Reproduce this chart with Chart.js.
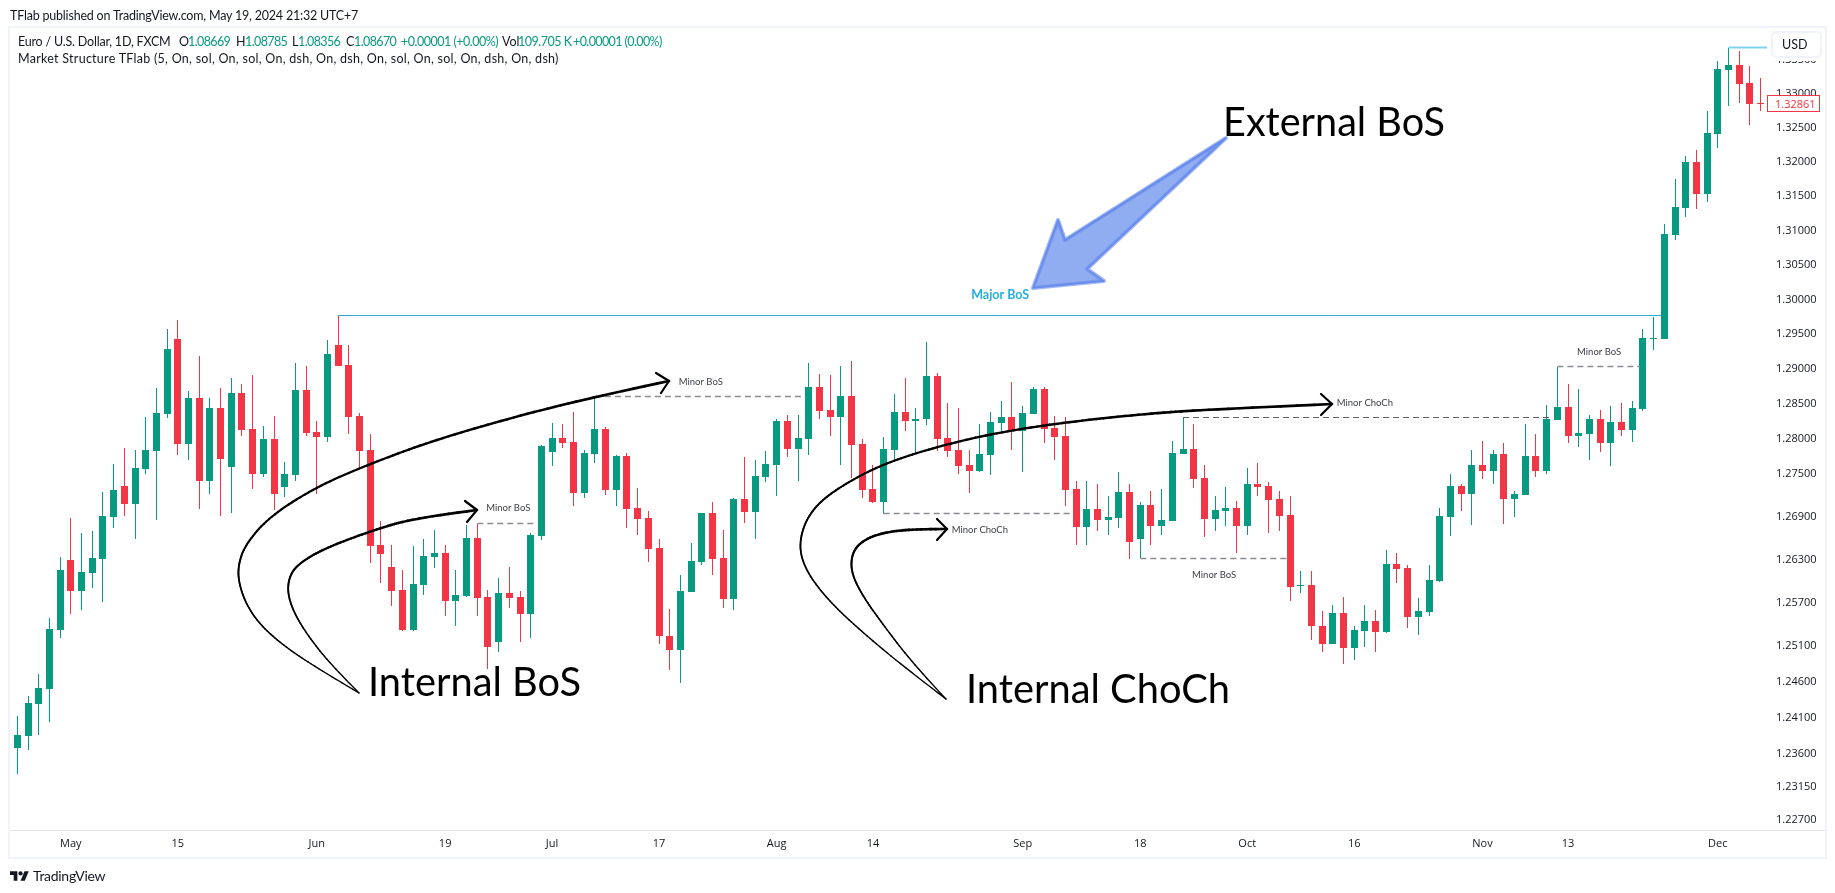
<!DOCTYPE html>
<html>
<head>
<meta charset="utf-8">
<title>EURUSD Market Structure</title>
<script src="https://cdn.jsdelivr.net/npm/chart.js@4"></script>
<style>
    html, body { margin: 0; padding: 0; background: #fff; }
    body { width: 1835px; height: 893px; position: relative; overflow: hidden; font-family: "Lato", sans-serif; color: #131722; }
    canvas { position: absolute; left: 0; top: 0; }
    .t { position: absolute; white-space: nowrap; font-size: 12.5px; line-height: 16px; }
    .g { color: #089981; }
    #frame { position: absolute; left: 8px; top: 26px; width: 1815px; height: 829px; border: 2px solid #F0F3FA; }
    #axisLine { position: absolute; left: 10px; top: 830px; width: 1815px; height: 1px; background: #E0E3EB; }
    #usd { position: absolute; left: 1771px; top: 31px; width: 47px; height: 23px; line-height: 23px; border: 2px solid #F0F3FA; border-radius: 5px; background: #fff; box-shadow: 0 2px 0 1px #fff; font-size: 12.5px; text-indent: 9px; }
    #lastPrice { position: absolute; left: 1767px; top: 95px; width: 51px; height: 15px; line-height: 15px; border: 1px solid #F23645; background: #fff; color: #F23645; font-family: "Open Sans", sans-serif; font-size: 11px; text-indent: 7px; }
    #logo { position: absolute; left: 10px; top: 869px; width: 19px; height: 13px; }
</style>
</head>
<body>
<canvas id="marketChart" width="1835" height="893"></canvas>
<div id="frame"></div>
<div id="axisLine"></div>

<div class="t" style="left:10px;top:8px;letter-spacing:-0.2px">TFlab published on TradingView.com, May 19, 2024 21:32 UTC+7</div>
<div class="t" style="left:18px;top:34px;letter-spacing:-0.2px">Euro / U.S. Dollar, 1D, FXCM</div>
<div class="t" style="left:179px;top:34px">O</div><div class="t g" style="left:188px;top:34px;letter-spacing:-0.6px">1.08669</div>
<div class="t" style="left:236px;top:34px">H</div><div class="t g" style="left:245px;top:34px;letter-spacing:-0.6px">1.08785</div>
<div class="t" style="left:292px;top:34px">L</div><div class="t g" style="left:298px;top:34px;letter-spacing:-0.6px">1.08356</div>
<div class="t" style="left:346px;top:34px">C</div><div class="t g" style="left:354px;top:34px;letter-spacing:-0.6px">1.08670</div>
<div class="t g" style="left:401px;top:34px;letter-spacing:-0.5px">+0.00001 (+0.00%)</div>
<div class="t" style="left:502px;top:34px">Vol</div><div class="t g" style="left:518px;top:34px;letter-spacing:-0.5px">109.705 K</div>
<div class="t g" style="left:573px;top:34px;letter-spacing:-0.6px">+0.00001 (0.00%)</div>
<div class="t" style="left:18px;top:51px;letter-spacing:0.27px">Market Structure TFlab (5, On, sol, On, sol, On, dsh, On, dsh, On, sol, On, sol, On, dsh, On, dsh)</div>

<div id="usd">USD</div>
<div id="lastPrice">1.32861</div>

<svg id="logo" viewBox="0 0 36 24"><path fill="#131722" d="M14 22H7V11H0V4h14v18zM28 22h-8l7.5-18h8L28 22z"/><circle fill="#131722" cx="20" cy="8" r="4"/></svg>
<div class="t" style="left:33px;top:868px;font-size:14px;letter-spacing:-0.3px">TradingView</div>

<script>
// daily candles
const opens = [
    1.23690,1.23855,1.24295,1.24502,1.25320,1.26297,1.25863,1.26115,1.26311,1.26901,
    1.27339,1.27085,1.27579,1.27834,1.28360,1.29433,1.27934,1.28589,1.27410,1.28446,
    1.27607,1.28660,1.28147,1.27508,1.28005,1.27325,1.27494,1.28703,1.28104,1.28033,
    1.29347,1.29060,1.28332,1.27848,1.26508,1.26199,1.25877,1.25320,1.25947,1.26339,
    1.26395,1.25724,1.25794,1.26606,1.25780,1.25153,1.25836,1.25780,1.25543,1.26634,
    1.27820,1.28019,1.27962,1.27240,1.27792,1.28147,1.27282,1.27763,1.27028,1.26887,
    1.26466,1.25236,1.25033,1.25850,1.26269,1.26958,1.26325,1.25743,1.27155,1.26972,
    1.27466,1.27636,1.28261,1.27863,1.28005,1.28746,1.28417,1.28317,1.28617,1.27934,
    1.27296,1.27113,1.27848,1.28389,1.28261,1.28289,1.28903,1.28019,1.27848,1.27636,
    1.27551,1.27778,1.28232,1.28317,1.28118,1.28360,1.28717,1.28161,1.28047,1.27296,
    1.26761,1.27014,1.26859,1.26887,1.27254,1.26592,1.27070,1.26775,1.26845,1.27792,
    1.27863,1.27452,1.26873,1.26986,1.27028,1.26775,1.27367,1.27339,1.27155,1.26930,
    1.25933,1.25947,1.25376,1.25125,1.25557,1.25070,1.25306,1.25445,1.25292,1.26241,
    1.26185,1.25501,1.25571,1.26003,1.26901,1.27339,1.27226,1.27636,1.27551,1.27792,
    1.27155,1.27212,1.27763,1.27551,1.28275,1.28460,1.28047,1.28076,1.28289,1.27948,
    1.28246,1.28133,1.28432,1.29433,1.29433,1.30936,1.31329,1.32001,1.31533,1.32411,
    1.33354,1.33428,1.33162,1.32868
];
const closes = [
    1.23868,1.24309,1.24516,1.25334,1.26157,1.25863,1.26129,1.26325,1.26915,1.27282,
    1.27085,1.27593,1.27848,1.28375,1.29290,1.27934,1.28589,1.27410,1.28446,1.27721,
    1.28660,1.28133,1.27508,1.28005,1.27226,1.27508,1.28703,1.28090,1.28033,1.29218,
    1.29046,1.28317,1.27834,1.26494,1.26381,1.25863,1.25320,1.25961,1.26353,1.26395,
    1.25724,1.25808,1.26606,1.25766,1.25084,1.25836,1.25766,1.25543,1.26648,1.27905,
    1.28019,1.27948,1.27240,1.27806,1.28147,1.27282,1.27763,1.27014,1.26873,1.26452,
    1.25227,1.25033,1.25863,1.26283,1.26958,1.26311,1.25743,1.27155,1.26972,1.27480,
    1.27650,1.28261,1.27863,1.28019,1.28746,1.28403,1.28317,1.28617,1.27919,1.27282,
    1.27113,1.27863,1.28389,1.28261,1.28289,1.28903,1.28005,1.27834,1.27622,1.27551,
    1.27792,1.28246,1.28317,1.28118,1.28375,1.28717,1.28147,1.28033,1.27282,1.26761,
    1.27014,1.26859,1.26901,1.27254,1.26550,1.27070,1.26775,1.26859,1.27806,1.27863,
    1.27438,1.26873,1.27000,1.27028,1.26775,1.27367,1.27325,1.27141,1.26915,1.25919,
    1.25947,1.25366,1.25125,1.25557,1.25070,1.25320,1.25445,1.25292,1.26241,1.26171,
    1.25501,1.25584,1.26017,1.26915,1.27339,1.27226,1.27636,1.27551,1.27792,1.27155,
    1.27226,1.27763,1.27551,1.28289,1.28460,1.28047,1.28090,1.28289,1.27948,1.28246,
    1.28133,1.28446,1.29448,1.29448,1.30950,1.31343,1.32001,1.31533,1.32426,1.33369,
    1.33428,1.33148,1.32853,1.32861
];
const highs = [
    1.24130,1.24406,1.24710,1.25487,1.26339,1.26887,1.26676,1.26704,1.27254,1.27650,
    1.27877,1.27848,1.28317,1.28731,1.29577,1.29707,1.28688,1.29189,1.28589,1.28731,
    1.28874,1.28789,1.28917,1.28190,1.28332,1.27678,1.29089,1.29046,1.28261,1.29419,
    1.29774,1.29347,1.28375,1.28076,1.26845,1.26508,1.26157,1.26494,1.26592,1.26718,
    1.26508,1.26157,1.26789,1.26803,1.25877,1.26045,1.26199,1.25863,1.26671,1.27919,
    1.28232,1.28218,1.28389,1.27848,1.28603,1.28175,1.27778,1.27801,1.27311,1.26986,
    1.26592,1.25603,1.26087,1.26536,1.26958,1.27113,1.26718,1.27169,1.27749,1.27707,
    1.27834,1.28289,1.28346,1.28346,1.29089,1.28932,1.28917,1.29046,1.29118,1.28005,
    1.27636,1.28033,1.28646,1.28874,1.28446,1.29390,1.28946,1.28517,1.28446,1.27848,
    1.28218,1.28389,1.28546,1.28817,1.28475,1.28741,1.28741,1.28332,1.28317,1.27410,
    1.27410,1.27367,1.27197,1.27537,1.27367,1.27113,1.27268,1.27296,1.27976,1.28313,
    1.28218,1.27636,1.27197,1.27325,1.27127,1.27593,1.27664,1.27395,1.27268,1.27197,
    1.26143,1.26143,1.25584,1.25668,1.25780,1.25376,1.25668,1.25598,1.26437,1.26395,
    1.26227,1.25766,1.26227,1.27028,1.27508,1.27367,1.27848,1.27976,1.27848,1.27948,
    1.27268,1.28218,1.28076,1.28489,1.29032,1.28789,1.28717,1.28346,1.28417,1.28475,
    1.28517,1.28546,1.29577,1.29750,1.31096,1.31752,1.32088,1.32176,1.32750,1.33488,
    1.33680,1.33636,1.33414,1.33236
];
const lows = [
    1.23334,1.23655,1.23868,1.24047,1.25209,1.25543,1.25598,1.25905,1.25710,1.26747,
    1.26915,1.26592,1.27508,1.26859,1.28303,1.27778,1.27707,1.27014,1.27226,1.26915,
    1.26958,1.28047,1.27296,1.27466,1.27000,1.27183,1.27410,1.28047,1.27226,1.27962,
    1.29046,1.28076,1.27593,1.26255,1.25975,1.25654,1.25306,1.25306,1.25808,1.26185,
    1.25515,1.25376,1.25770,1.25515,1.24779,1.25015,1.25626,1.25153,1.25209,1.26578,
    1.27622,1.27877,1.27056,1.27169,1.27664,1.27212,1.27056,1.26747,1.26648,1.26269,
    1.25116,1.24756,1.24576,1.25850,1.26227,1.26087,1.25626,1.25589,1.26817,1.26592,
    1.27395,1.27197,1.27749,1.27410,1.27778,1.28289,1.28047,1.27636,1.27447,1.27169,
    1.27099,1.26944,1.27707,1.28118,1.27806,1.28204,1.27834,1.27749,1.27508,1.27240,
    1.27537,1.27494,1.28118,1.27848,1.27537,1.28360,1.27948,1.27707,1.27056,1.26508,
    1.26508,1.26704,1.26648,1.26747,1.26311,1.26316,1.26508,1.26648,1.26836,1.27783,
    1.27311,1.26620,1.26704,1.26775,1.26395,1.26648,1.27197,1.26676,1.26704,1.25715,
    1.25836,1.25172,1.25015,1.25125,1.24848,1.24904,1.25084,1.25015,1.25278,1.25975,
    1.25348,1.25251,1.25515,1.25989,1.26634,1.26986,1.26789,1.27438,1.27367,1.26803,
    1.26901,1.27212,1.27466,1.27508,1.28275,1.27948,1.27891,1.27707,1.27820,1.27622,
    1.28047,1.27962,1.28403,1.29275,1.29433,1.30863,1.31198,1.31314,1.31416,1.32206,
    1.32823,1.32867,1.32544,1.32750
];

// time axis: candle number and its label
const timeTickIndex = [5, 15, 28, 40, 50, 60, 71, 80, 94, 105, 115, 125, 137, 145, 159];
const timeTickLabels = ["May", "15", "Jun", "19", "Jul", "17", "Aug", "14", "Sep", "18", "Oct", "16", "Nov", "13", "Dec"];

const priceTicks = [1.335, 1.33, 1.325, 1.32, 1.315, 1.31, 1.305, 1.3, 1.295, 1.29, 1.285, 1.28, 1.275,
    1.269, 1.263, 1.257, 1.251, 1.246, 1.241, 1.236, 1.2315, 1.227];

// market structure levels from the indicator
const majorFrom = [30, 160];
const majorTo = [153.7, 163.6];
const majorPrice = [1.29774, 1.33680];
const minorFrom = [43, 54, 81, 105, 109, 144];
const minorTo = [48.6, 73.7, 98.7, 118.7, 143.3, 151.7];
const minorPrice = [1.26803, 1.28603, 1.26944, 1.26316, 1.28313, 1.29032];

const labelTexts = ["Major BoS", "Minor BoS", "Minor BoS", "Minor ChoCh", "Minor BoS", "Minor ChoCh", "Minor BoS"];
const labelIndex = [91.9, 45.9, 63.9, 90, 111.9, 126, 147.9];
const labelPrice = [1.3007, 1.2702, 1.2882, 1.2672, 1.2609, 1.2852, 1.2925];

const GREEN = "#089981";
const RED = "#F23645";
const TICK_FONT = { family: "Open Sans", size: 11 };

const candleColors = opens.map((o, i) => (closes[i] >= o ? GREEN : RED));

function levelDataset(from, to, price, color, width, dash) {
    return {
        type: "line",
        data: [{ x: from, y: price }, { x: to, y: price }],
        borderColor: color,
        borderWidth: width,
        borderDash: dash,
        pointRadius: 0,
        fill: false,
        order: 0
    };
}

const levelDatasets = [
    levelDataset(majorFrom[0], majorTo[0], majorPrice[0], "#2FA9D8", 1, []),
    levelDataset(majorFrom[1], majorTo[1], majorPrice[1], "#7FD3F0", 2, [])
];
minorFrom.forEach((from, i) => {
    const dark = i === 4;
    levelDatasets.push(levelDataset(from, minorTo[i], minorPrice[i], dark ? "#5d5f66" : "#8a8c92", dark ? 1 : 1.5, [6, 4]));
});

// hand drawn callouts sit on top of the chart, they are drawings and not data
const calloutCurves = [
    { pts: [[359,693],[322,671],[288,649],[262,627],[247,606],[239,584],[238,566],[245,545],[269,517],[316,487],[372,463],[435,440],[514,417],[594,397],[669,381]], barbs: [[656,373],[661,393]] },
    { pts: [[359,693],[332,666],[308,636],[293,611],[287,590],[291,572],[304,560],[328,547],[374,530],[415,518],[477,510]], barbs: [[465,501],[467,522]] },
    { pts: [[946,699],[899,663],[860,630],[833,605],[812,580],[801,558],[800,538],[808,516],[825,497],[857,477],[889,462],[936,447],[995,433],[1067,422],[1154,413],[1220,409],[1332,404]], barbs: [[1321,394],[1321,415]] },
    { pts: [[946,699],[915,666],[884,626],[862,595],[851,572],[852,553],[862,541],[881,533],[912,529],[947,529]], barbs: [[937,519],[937,540]] }
];
const blueArrow = [[1226,138],[1065,240],[1058,220],[1033,288],[1104,281],[1087,269]];
const calloutTexts = [
    { text: "External BoS", x: 1223, y: 136, w: 222 },
    { text: "Internal BoS", x: 368, y: 696, w: 213 },
    { text: "Internal ChoCh", x: 966, y: 703, w: 264 }
];

// corners of the polyline become quadratic curves through the midpoints
function smoothLine(pts) {
    const mid = (a, b) => [(a[0] + b[0]) / 2, (a[1] + b[1]) / 2];
    const line = [];
    const last = pts.length - 1;
    for (let i = 1; i < last; i++) {
        const a = i === 1 ? pts[0] : mid(pts[i - 1], pts[i]);
        const b = pts[i];
        const c = i === last - 1 ? pts[last] : mid(pts[i], pts[i + 1]);
        for (let s = 0; s < 12; s++) {
            const t = s / 12;
            const u = 1 - t;
            line.push([u * u * a[0] + 2 * u * t * b[0] + t * t * c[0], u * u * a[1] + 2 * u * t * b[1] + t * t * c[1]]);
        }
    }
    line.push(pts[last]);
    return line;
}

// curve gets thicker towards the arrow head, like a pen stroke
function drawCurve(ctx, curve) {
    const pts = curve.pts;
    const line = smoothLine(pts);

    ctx.strokeStyle = "#000";
    ctx.lineCap = "round";
    ctx.lineJoin = "round";
    for (let i = 0; i < line.length - 1; i++) {
        ctx.lineWidth = 1.3 + 1.4 * (i / line.length);
        ctx.beginPath();
        ctx.moveTo(line[i][0], line[i][1]);
        ctx.lineTo(line[i + 1][0], line[i + 1][1]);
        ctx.stroke();
    }

    const tip = pts[pts.length - 1];
    ctx.lineWidth = 2.2;
    ctx.beginPath();
    ctx.moveTo(curve.barbs[0][0], curve.barbs[0][1]);
    ctx.lineTo(tip[0], tip[1]);
    ctx.lineTo(curve.barbs[1][0], curve.barbs[1][1]);
    ctx.stroke();
}

const calloutPlugin = {
    id: "callouts",
    afterDatasetsDraw(chart) {
        const ctx = chart.ctx;
        const x = chart.scales.x;
        const y = chart.scales.y;

        ctx.save();

        ctx.textAlign = "center";
        ctx.textBaseline = "middle";
        labelTexts.forEach((text, i) => {
            ctx.font = i === 0 ? "bold 12.5px Lato" : "9.5px Lato";
            ctx.fillStyle = i === 0 ? "#29AEE0" : "#3f4148";
            ctx.fillText(text, x.getPixelForValue(labelIndex[i]), y.getPixelForValue(labelPrice[i]));
        });

        calloutCurves.forEach(c => drawCurve(ctx, c));

        ctx.beginPath();
        blueArrow.forEach((p, i) => (i ? ctx.lineTo(p[0], p[1]) : ctx.moveTo(p[0], p[1])));
        ctx.closePath();
        ctx.fillStyle = "#91ADF1";
        ctx.fill();
        ctx.lineJoin = "round";
        ctx.strokeStyle = "rgba(100,138,236,0.6)";
        ctx.lineWidth = 4;
        ctx.stroke();
        ctx.strokeStyle = "#668AEB";
        ctx.lineWidth = 1.5;
        ctx.stroke();

        ctx.textAlign = "left";
        ctx.textBaseline = "alphabetic";
        ctx.fillStyle = "#000";
        ctx.font = "40px Lato";
        calloutTexts.forEach(t => ctx.fillText(t.text, t.x, t.y, t.w));

        ctx.restore();
    }
};

// candles look sharp only when they sit on whole pixels
const snapPlugin = {
    id: "snap",
    afterDatasetsUpdate(chart) {
        chart.getSortedVisibleDatasetMetas().forEach(meta => {
            meta.data.forEach(el => {
                if (meta.type === "bar") {
                    el.x = Math.floor(el.x) + 0.5;
                    el.y = Math.round(el.y);
                    el.base = Math.round(el.base);
                    if (el.y === el.base) el.base += 1;
                } else {
                    el.y = Math.floor(el.y) + 0.5;
                }
            });
        });
    }
};

new Chart(document.getElementById("marketChart"), {
    type: "bar",
    data: {
        datasets: [
            {
                label: "body",
                data: opens.map((o, i) => ({ x: i, y: [o, closes[i]] })),
                backgroundColor: candleColors,
                maxBarThickness: 7,
                order: 1
            },
            {
                label: "wick",
                data: lows.map((l, i) => ({ x: i, y: [l, highs[i]] })),
                backgroundColor: candleColors,
                maxBarThickness: 1,
                order: 2
            },
            ...levelDatasets
        ]
    },
    options: {
        responsive: false,
        devicePixelRatio: 1,
        animation: false,
        grouped: false,
        categoryPercentage: 1,
        barPercentage: 1,
        inflateAmount: 0,
        layout: { padding: { left: 10, top: 28, right: 9, bottom: 36 } },
        plugins: { legend: { display: false }, tooltip: { enabled: false }, title: { display: false } },
        scales: {
            x: {
                type: "linear",
                offset: false,
                min: -0.69,
                max: 163.6,
                grid: { display: false, drawTicks: false },
                border: { display: false },
                afterBuildTicks: axis => { axis.ticks = timeTickIndex.map(v => ({ value: v })); },
                afterFit: axis => { axis.height = 27; },
                ticks: {
                    autoSkip: false,
                    maxRotation: 0,
                    padding: 7,
                    color: "#131722",
                    font: TICK_FONT,
                    callback: v => timeTickLabels[timeTickIndex.indexOf(v)]
                }
            },
            y: {
                type: "logarithmic",
                position: "right",
                min: 1.22564,
                max: 1.33976,
                grid: { display: false, drawTicks: false },
                border: { display: false },
                afterBuildTicks: axis => { axis.ticks = priceTicks.map(v => ({ value: v })); },
                afterFit: axis => { axis.width = 59; },
                ticks: {
                    autoSkip: false,
                    padding: 9,
                    color: "#131722",
                    font: TICK_FONT,
                    callback: v => Number(v).toFixed(5)
                }
            }
        }
    },
    plugins: [snapPlugin, calloutPlugin]
});
</script>
</body>
</html>
